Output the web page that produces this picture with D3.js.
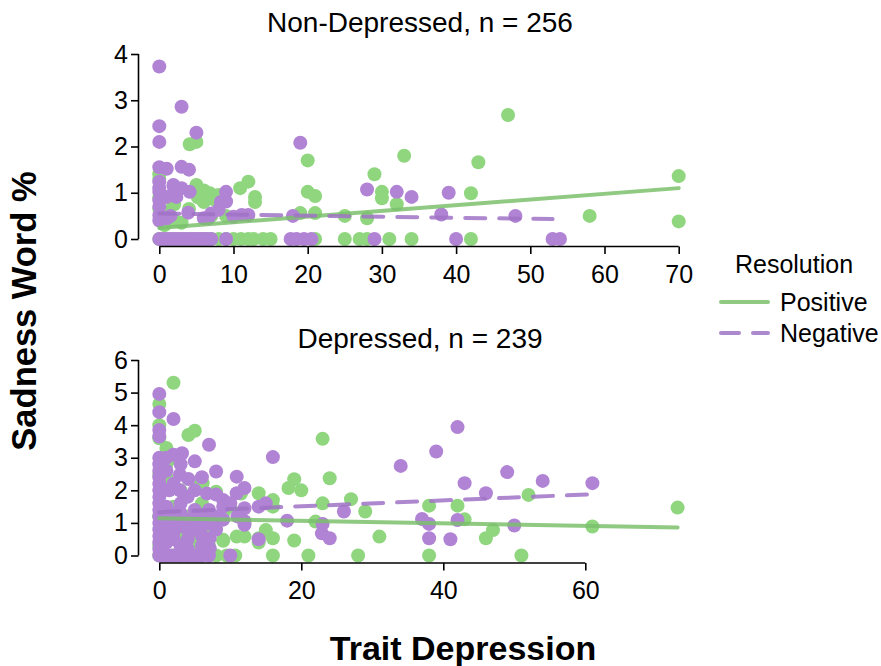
<!DOCTYPE html>
<html><head><meta charset="utf-8">
<script src="https://cdn.jsdelivr.net/npm/d3@7"></script>
<style>body{margin:0;background:#fff}svg{font-family:"Liberation Sans",Arial,sans-serif}</style>
</head><body><svg id="c" width="881" height="666"></svg>
<script>
// ---- data ----
const panelTitles = ["Non-Depressed, n = 256", "Depressed, n = 239"];
const seriesNames = ["Positive", "Negative"];
const topXTicks = [0,10,20,30,40,50,60,70];
const topYTicks = [0,1,2,3,4];
const botXTicks = [0,20,40,60];
const botYTicks = [0,1,2,3,4,5,6];

const topPositive = [
 [0,0],[1,0],[2,0],[3,0],[4,0],[5,0],[6,0],[7,0],[8,0],[9,0],[10,0],[11,0],[12,0],[12.7,0],[14,0],[15,0],[21,0],[25,0],[27,0],[28,0],[31,0],[34,0],[42,0],
 [0,1.4],[0,1.3],[0,0.65],[0,0.9],[0.7,0.3],[1,0.6],[2,0.4],[3,0.35],[4.1,2.05],[5,2.1],[5,1.17],[5.2,0.9],[6,0.8],[6.8,0.99],[7,0.5],[8,0.95],[9,0.5],
 [10.9,1.1],[12,1.24],[12.9,0.91],[12.9,0.8],[19,0.56],[20,1.7],[20,1.02],[21,0.93],[21,0.56],[25,0.5],[28,0.45],[29,1.4],[30,1.02],[30,0.88],[32,0.75],
 [33,1.8],[42,0.99],[43,1.66],[47,2.68],[58,0.5],[70,1.36],[70,0.38],[2,0.75],[4,0.65],[6,1.05],[7.5,0.85]
];
const topNegative = [
 [0,0],[0.5,0],[1,0],[1.5,0],[2,0],[2.5,0],[3,0],[3.5,0],[4,0],[4.5,0],[5,0],[5.5,0],[6,0],[6.5,0],[7,0],[9,0],[17.7,0],[18.5,0],[19.5,0],[20.5,0],[29,0],[40,0],[53,0],[54,0],
 [0,3.73],[3,2.86],[0,2.44],[0,2.1],[5,2.3],[0,1.55],[1,1.52],[3,1.56],[4,1.5],[0,1.24],[0,1.02],[0,0.84],[1.9,1.17],[3,1.1],[4.1,1.02],[1,0.91],[2.3,0.91],
 [0,0.52],[1,0.45],[0,0.4],[3.9,0.57],[6,0.45],[6.6,0.45],[8,0.63],[9,1.02],[9,0.81],[8.3,0.8],[10,0.48],[11.1,0.52],[12,0.52],[18,0.5],[19,2.08],
 [28,1.07],[32,1.02],[34,0.91],[39,1.0],[38,0.53],[48,0.5],[0,1.1],[0,0.7],[2,1.05],[1.5,0.5],[7,0.55]
];
const botPositive = [
 [0,0],[1,0],[2,0],[3,0],[4,0],[5,0],[6,0],[8,0],[9.5,0],[10.7,0],[16,0],[21,0],[28,0],[38,0],[51,0],
 [2,5.3],[0,4.65],[4.1,3.7],[5,3.83],[1,3.3],[0,3.6],[0,2.5],[1,2.8],[5.7,2.2],[6.1,2.22],[8,1.96],[8,1.91],[9,0.48],[9,0.45],[10.9,0.58],[12,0.58],
 [6.5,0.85],[7,0.8],[8,1.0],[10,1.5],[11.5,1.9],[14,1.91],[16,1.7],[16,1.5],[18.2,2.07],[19,2.34],[20,2.0],[23,3.58],[24,2.37],[27,1.73],[23,1.6],
 [29,1.35],[22,1.04],[15,0.78],[16,0.53],[14,0.4],[14,0.53],[19,0.46],[31,0.58],[38,1.53],[42,1.53],[43,1.11],[52,1.86],[73,1.47],[61,0.89],[46,0.53],
 [47,0.78],[0,1.2],[0,0.3],[2,1.5],[3,2.0],[4,1.2],[5,0.4],[3,0.6],[12,1.0],[1,2.4],[0,4.0],[2,3.0],[6,1.6],[9,1.3],[7,0.3]
];
const botNegative = [
 [0,0],[0.5,0],[1,0],[1.5,0],[2,0],[2.5,0],[3,0],[3.5,0],[4,0],[4.5,0],[5,0],[5.5,0],[6,0],[7,0],[10,0],
 [0,4.96],[0,4.4],[2,4.19],[0,3.85],[0,3.65],[7,3.4],[2,3.09],[3.2,3.14],[0,3.0],[0,2.8],[0,2.6],[0,2.4],[0,2.2],[0,2.0],[0,1.8],[0,1.6],[0,1.4],
 [0,1.2],[0,1.0],[0,0.8],[0,0.6],[0,0.4],[0,0.2],[5,2.89],[8,2.58],[2.9,2.48],[4.1,2.35],[10.9,2.42],[10.9,1.91],[12,2.07],[1.4,2.0],[2.9,2.0],[5,2.0],
 [6.7,1.9],[8,1.87],[9,1.7],[9,1.5],[1,1.5],[2,1.3],[3,1.6],[4,1.1],[5,1.4],[6,1.2],[1,0.9],[2,0.7],[3,0.9],[4,0.5],[5,0.8],[6,0.6],[7,1.0],[1,0.4],
 [3,0.3],[2,0.5],[7.1,0.53],[7.1,0.22],[6.9,0.98],[12,0.94],[12,1.45],[12,1.05],[14,1.5],[15,1.6],[14,0.5],[16,3.02],[18,1.07],[23,0.97],[22.9,0.68],
 [24,0.53],[26,1.35],[42,3.94],[39,3.19],[34,2.75],[49,2.56],[43,2.22],[54,2.29],[61,2.22],[46,1.91],[37,1.12],[38,0.97],[42,1.09],[50,0.92],[38,0.53],[41,0.5],
 [1,3.0],[1,2.6],[2,2.2],[3,2.8],[4,1.8],[6,2.4],[1,1.2],[2,1.0],[3,1.3],[4,0.8],[5,1.1],[6,0.9],[7,1.4],[8,1.2],[8,0.8],[9,1.1],[1,0.7],[4,0.2],[6,0.3],[10,1.6],[11,1.2]
];
// fitted regression lines: [x0, y0, x1, y1]
const topFitPositive = [0,0.24,70,1.10];
const topFitNegative = [0,0.55,53,0.43];
const botFitPositive = [0,1.14,73,0.86];
const botFitNegative = [0,1.33,61,1.88];

// ---- drawing ----
const svg = d3.select("#c");
const ptColor = {Positive:"#8fd67f", Negative:"#b183d4"};
const lnColor = {Positive:"#7bbf6c", Negative:"#a073c6"};
const FONT = "Liberation Sans, Arial, sans-serif";

const panels = [
 {title:panelTitles[0], titleY:22, xd:[0,70], xr:[159.3,678.7], yd:[0,4], yr:[239,54], xt:topXTicks, yt:topYTicks, axisY:246.5,
  pos:topPositive, neg:topNegative, fp:topFitPositive, fn:topFitNegative},
 {title:panelTitles[1], titleY:338, xd:[0,73], xr:[159.3,677.6], yd:[0,6], yr:[555.5,360], xt:botXTicks, yt:botYTicks, axisY:563,
  pos:botPositive, neg:botNegative, fp:botFitPositive, fn:botFitNegative}
];
const axisX = 138.5;

panels.forEach(p => {
  const x = d3.scaleLinear().domain(p.xd).range(p.xr);
  const y = d3.scaleLinear().domain(p.yd).range(p.yr);
  svg.append("text").attr("x",420).attr("y",p.titleY).attr("text-anchor","middle")
     .attr("dominant-baseline","central").attr("font-size",28).text(p.title);

  const g = svg.append("g");
  [["Positive",p.pos],["Negative",p.neg]].forEach(([name,data]) => {
    g.selectAll(null).data(data).enter().append("circle")
     .attr("cx",d=>x(d[0])).attr("cy",d=>y(d[1])).attr("r",7).attr("fill",ptColor[name]);
  });
  [["Positive",p.fp,null],["Negative",p.fn,"20,14"]].forEach(([name,f,dash]) => {
    g.append("line").attr("x1",x(f[0])).attr("y1",y(f[1])).attr("x2",x(f[2])).attr("y2",y(f[3]))
     .attr("stroke",lnColor[name]).attr("stroke-width",4).attr("stroke-opacity",0.85)
     .attr("stroke-linecap","round").attr("stroke-dasharray",dash);
  });

  const xa = svg.append("g").attr("transform",`translate(0,${p.axisY})`)
     .call(d3.axisBottom(x).tickValues(p.xt).tickSize(7.5).tickPadding(11).tickFormat(d3.format("d")));
  const ya = svg.append("g").attr("transform",`translate(${axisX},0)`)
     .call(d3.axisLeft(y).tickValues(p.yt).tickSize(7.5).tickPadding(3).tickFormat(d3.format("d")));
  [xa,ya].forEach(a => {
    a.select(".domain").remove();
    a.selectAll(".tick line").attr("stroke","#000").attr("stroke-width",1.6);
    a.selectAll(".tick text").attr("font-size",25).attr("fill","#000").attr("font-family",FONT);
  });
  // capped axis lines
  xa.append("line").attr("x1",x(p.xt[0])).attr("x2",x(p.xt[p.xt.length-1])).attr("stroke","#000").attr("stroke-width",1.6);
  ya.append("line").attr("y1",y(p.yt[0])).attr("y2",y(p.yt[p.yt.length-1])).attr("stroke","#000").attr("stroke-width",1.6);
});

// axis titles
svg.append("text").attr("transform","translate(24,311) rotate(-90)").attr("text-anchor","middle")
   .attr("dominant-baseline","central").attr("font-size",34.5).attr("font-weight","bold").text("Sadness Word %");
svg.append("text").attr("x",463).attr("y",648).attr("text-anchor","middle")
   .attr("dominant-baseline","central").attr("font-size",34).attr("font-weight","bold").text("Trait Depression");

// legend
const lg = svg.append("g");
lg.append("text").attr("x",794).attr("y",264).attr("text-anchor","middle").attr("dominant-baseline","central")
  .attr("font-size",25).text("Resolution");
seriesNames.forEach((s,i) => {
  const yy = 302 + i*31;
  lg.append("line").attr("x1",721).attr("x2",768).attr("y1",yy).attr("y2",yy)
    .attr("stroke",lnColor[s]).attr("stroke-width",4).attr("stroke-opacity",0.85).attr("stroke-linecap","round")
    .attr("stroke-dasharray", i===1 ? "18,14" : null);
  lg.append("text").attr("x",780).attr("y",yy).attr("dominant-baseline","central").attr("font-size",25).text(s);
});
</script></body></html>
